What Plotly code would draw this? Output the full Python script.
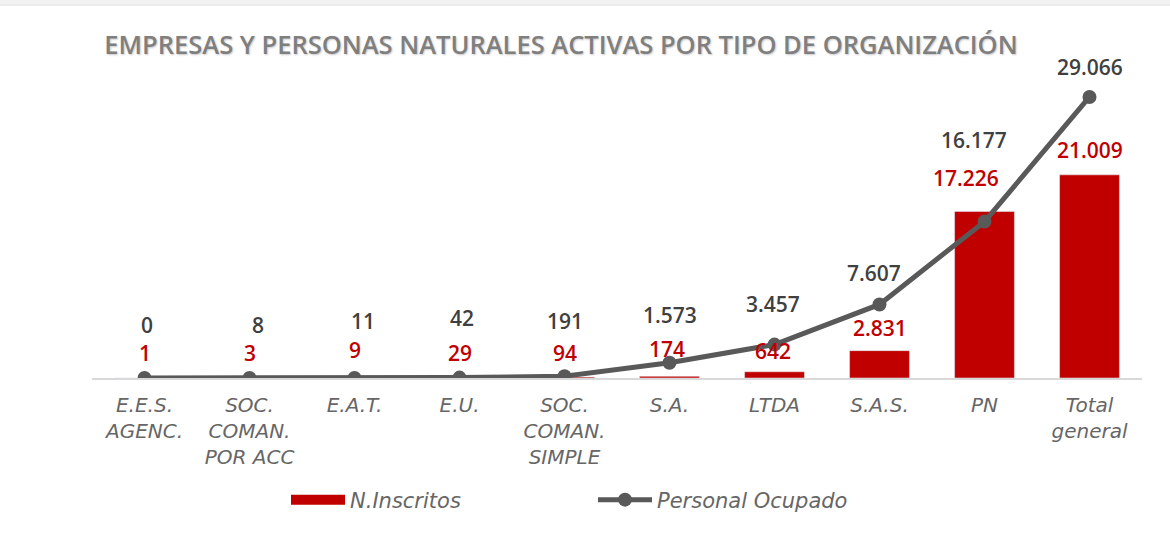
import plotly.graph_objects as go

categories = ["E.E.S.<br>AGENC.", "SOC.<br>COMAN.<br>POR ACC", "E.A.T.", "E.U.",
              "SOC.<br>COMAN.<br>SIMPLE", "S.A.", "LTDA", "S.A.S.", "PN", "Total<br>general"]
inscritos = [1, 3, 9, 29, 94, 174, 642, 2831, 17226, 21009]
personal = [0, 8, 11, 42, 191, 1573, 3457, 7607, 16177, 29066]

# label offsets (style, in pixels)
line_lbl_dy = [53, 53, 57, 60, 55, 48, 41, 31, 82, 30]
line_lbl_dx = [2, 8, 8, 2, 0, 0, -2, -6, -11, 0]
bar_lbl_dy = [25, 25, 28, 25, 24, 27, 21, 23, 33, 25]
bar_lbl_dx = [0, 0, 0, 0, 0, -3, -2, 0, -19, 0]

RED = "#C00000"
GRAY = "#595959"

W, H = 1170, 538
ML, MR, MT, MB = 92, 28, 60, 160


def fmt(v):
    return f"{v:,}".replace(",", ".")


fig = go.Figure()
fig.add_trace(go.Bar(x=categories, y=inscritos, marker_color=RED, name="N.Inscritos",
                     showlegend=False, legendgroup="ins", hoverinfo="y"))
# legend swatch for bars (wide flat rectangle like the reference)
fig.add_trace(go.Scatter(x=[None], y=[None], mode="lines", name="N.Inscritos",
                         line=dict(color=RED, width=12), legendgroup="ins"))
fig.add_trace(go.Scatter(x=categories, y=personal, mode="lines+markers", name="Personal Ocupado",
                         line=dict(color=GRAY, width=5), marker=dict(size=14, color=GRAY)))

annotations = []
for i, c in enumerate(categories):
    annotations.append(dict(x=c, y=personal[i], text=fmt(personal[i]), showarrow=False,
                            yshift=line_lbl_dy[i], xshift=line_lbl_dx[i],
                            font=dict(family="Open Sans", size=21, color="#404040", weight=600)))
    annotations.append(dict(x=c, y=inscritos[i], text=fmt(inscritos[i]), showarrow=False,
                            yshift=bar_lbl_dy[i], xshift=bar_lbl_dx[i],
                            font=dict(family="Open Sans", size=21, color=RED, weight=600)))

pw = W - ML - MR
ph = H - MT - MB


def px_x(p):
    return (p - ML) / pw


def px_y(p):
    return (H - MB - p) / ph


shapes = [
    dict(type="rect", xref="paper", yref="paper", x0=px_x(0), x1=px_x(W),
         y0=px_y(6), y1=px_y(0), fillcolor="#f2f2f2", line_width=0, layer="below"),
    dict(type="line", xref="paper", yref="paper", x0=px_x(0), x1=px_x(W),
         y0=px_y(5), y1=px_y(5), line=dict(color="#e4e4e4", width=1), layer="below"),
]

fig.update_layout(
    width=W, height=H,
    margin=dict(l=ML, r=MR, t=MT, b=MB, autoexpand=False),
    paper_bgcolor="white", plot_bgcolor="white",
    bargap=0.43,
    title=dict(text="EMPRESAS Y PERSONAS NATURALES ACTIVAS POR TIPO DE ORGANIZACIÓN",
               x=561 / W, xanchor="center", y=1 - 45 / H, yanchor="middle",
               font=dict(family="Open Sans", size=25.5, color="#7f7f7f", weight=600,
                         shadow="1px 1px 2px #c8c8c8")),
    xaxis=dict(showline=True, linecolor="#d9d9d9", linewidth=2, ticks="",
               range=[-0.5, len(categories) - 0.5],
               showgrid=False, zeroline=False, ticklabelstandoff=8,
               tickfont=dict(family="DejaVu Sans", size=20, color="#666666", style="italic", weight=200)),
    yaxis=dict(visible=False, range=[0, 32890], showgrid=False, zeroline=False),
    legend=dict(orientation="h", x=px_x(286), xanchor="left", y=px_y(500), yanchor="middle",
                itemwidth=54, entrywidth=238, traceorder="normal",
                font=dict(family="DejaVu Sans", size=21, color="#666666", style="italic", weight=200)),
    annotations=annotations,
    shapes=shapes,
    showlegend=True,
)

fig.write_html("out.html", config={"displayModeBar": False},
               post_script="document.body.style.margin='0';")
